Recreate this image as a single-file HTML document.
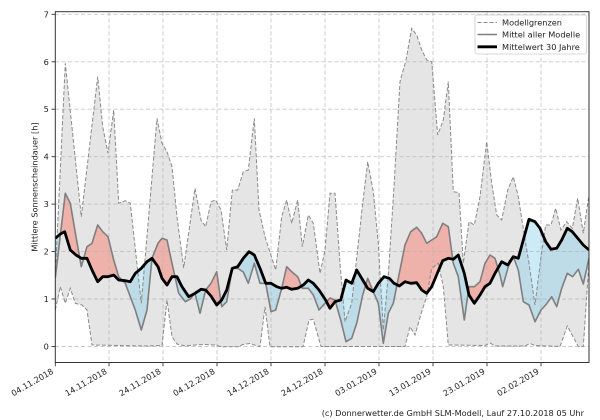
<!DOCTYPE html>
<html><head><meta charset="utf-8"><style>
html,body{margin:0;padding:0;background:#fff;}
svg{display:block;font-family:"DejaVu Sans","Liberation Sans",sans-serif;}
</style></head><body>
<svg width="600" height="420" viewBox="0 0 600 420" xmlns="http://www.w3.org/2000/svg">
<defs>
<clipPath id="ax"><rect x="55.3" y="11.7" width="533.7" height="350.8"/></clipPath>
<clipPath id="aboveB"><polygon points="55.3,11 55.3,238.3 60.3,234 64.7,231.7 70.3,250 76,255 81.3,258.3 87,258.3 92,270 97.7,281.7 102.7,276.7 108,276.7 113.7,275 118.7,280 125.3,280.7 130.3,281.7 135.3,273.3 141.3,268.3 147,261.7 152,258.3 158,266.7 162,278.3 167,285 172,276.7 177,276.7 182,286.7 188.7,296.7 195,293.3 201,289.3 205.7,290 211,296 216.7,305 221.7,300 226.7,290 232.3,268.3 237.7,266.7 243.3,258.3 249,251.7 254.3,255 260,268.3 265.7,283.3 271,283.3 276.7,286.7 281.7,288.3 286.7,287.3 291.7,289.3 297.7,288.3 303.3,285 308.3,280 313.3,283.3 319,290 325,299 330,308.3 335,301.7 340.7,300 346,280 351.7,283.3 356.7,270 362.7,280 367.7,288.3 373.3,291.7 378.3,283.3 384,276.7 389.3,278.3 394,283.3 399.3,286 405,281.7 410.7,283.3 416.7,282.7 421.7,290 426.7,293.3 431.7,286.7 437.3,273.3 442.7,260.7 448.3,258.3 453.3,259.3 458.3,255 464.3,273.3 469,295 474.3,303.3 480,295 485,286.7 490,283.3 495,273.3 501.7,261.7 507.7,265 513.3,256.7 518.3,258.3 523.3,240 529,219.3 535,221.7 540,228.3 545.7,241.7 551,249.3 556.7,248.3 561.7,240 567.3,228.3 572.3,231.7 577.7,238.3 583.3,245 589,250 589,11"/></clipPath>
<clipPath id="aboveM"><polygon points="55.3,11 55.3,278 65.3,193.3 70.3,203.3 76,236.7 81.3,266.7 87,246.7 92,243.3 97.7,225 102.7,231.7 108,236.7 113.7,260 118.7,276.7 125.3,283.3 130.3,296.7 135.3,310 141.3,330 147,310 152,258.3 158,243.3 162,238.3 167,240 172,263.3 178.7,293.3 185.3,301.7 190.3,299 195,293.3 200,313.3 205.7,290 211,283.3 216.7,271.7 221.7,306.7 226.7,301.7 232.3,268.3 237.7,268.3 243.3,272 248.3,283.3 254.3,263.3 260,283.3 265.7,283.3 271,311.7 275.7,310 281.7,288.3 286.7,266.7 291.7,271.7 297.7,276.7 302.3,288.3 308.3,288.3 313.3,295 319,310 325,303.3 330,298 335,300 340.7,320 346,341.7 351.7,338.3 356.7,323.3 362.7,295 367.7,278.3 373.3,291.7 378.3,303.3 383.3,343.3 388.3,313.3 393.3,303.3 399.3,273.3 405,245 410.7,231.7 416.7,227.3 421.7,233.3 426.7,243.3 431.7,240 436.7,236.7 442.7,223.3 448.3,226.7 453.3,263.3 458.3,276.7 464.3,320 469,286.7 474.3,286.7 480,281.7 485,263.3 490,255 495,258.3 500,275 502.7,286.7 508.3,266.7 513.3,256.7 518.3,270 523.3,301.7 529,305 535,321.7 541,310 545.7,305 551.7,296.7 556.7,306.7 561.7,288.3 567.3,273.3 572.7,276.7 578.3,269.3 583.3,284 589,258 589,11"/></clipPath>
</defs>

<g clip-path="url(#ax)">
<!-- gray band -->
<polygon fill="#d3d3d3" fill-opacity="0.6" points="55.3,275 65.3,63.3 81.3,216.7 97.7,76.7 102.7,126.7 108,153.3 113.7,110 118.7,203.3 125.3,200.7 130.3,203.3 141.3,303.3 157,118.3 162,143.3 167,151.7 172,166.7 177,216.7 183.7,268 195,188.3 201,220 205.7,226.7 211,201.7 215.7,200 221,210 226.7,250 232.3,190 237.7,190 243.3,171.7 248.3,170 254.3,118.3 259,210 265,236.7 275.7,270 281.7,216.7 286.7,200 291.7,223.3 297.7,200 302.3,246.7 308.3,215 313.3,223.3 320,273.3 325,250 330,193.3 335,193.3 340,263.3 345,321.7 351.7,303.3 362.7,203.3 367.7,161.7 373.3,191.7 378.3,243.3 383.3,330 388.3,275 394,186.7 400,81.7 406,60 411.7,28.3 416.7,35 421.7,50 426.7,60 431.7,61.7 437.7,135 443.3,120 448.3,81.7 453.3,191.7 459,192.7 463.3,263.3 469,221.7 474.3,225 480,196.7 486.7,141.7 491.7,183.3 496.7,215 501.7,220 507.7,190 513.3,176.7 518.3,196.7 523.5,230 529,263.3 535,305 541,256.7 545.7,225 551,225 555.7,208.3 561,230 566.7,221.7 572.3,228.3 577.7,198.3 583.3,233.3 589,195 589,262 583.3,346.5 578.3,346.5 567.3,326 560,346.5 535,345.5 530,343.5 525,346 495,346 490,343 485,345.5 448.3,345 443.3,286.7 438.3,263.3 431.7,268.3 426.7,296.7 421.7,311.7 415,335 410,326.7 405,346.5 321,346.5 318,336 313.3,319.3 309,320 303,346.7 270,346.7 265,306.7 260,346.7 256,345.5 250,343.5 243,344.5 238,346.7 221,346.7 215,345 205,344.5 195,345 185,346 177,344 172,336.7 167,300 162,345.5 145,346 120,345.5 92,345 87,310 82,305 75.3,303.3 70.3,288.3 65.3,303.3 60.3,286.7 55.3,310"/>

<!-- red: model above 30y -->
<polygon clip-path="url(#aboveB)" fill="#fa8072" fill-opacity="0.5" points="55.3,362.5 55.3,278 65.3,193.3 70.3,203.3 76,236.7 81.3,266.7 87,246.7 92,243.3 97.7,225 102.7,231.7 108,236.7 113.7,260 118.7,276.7 125.3,283.3 130.3,296.7 135.3,310 141.3,330 147,310 152,258.3 158,243.3 162,238.3 167,240 172,263.3 178.7,293.3 185.3,301.7 190.3,299 195,293.3 200,313.3 205.7,290 211,283.3 216.7,271.7 221.7,306.7 226.7,301.7 232.3,268.3 237.7,268.3 243.3,272 248.3,283.3 254.3,263.3 260,283.3 265.7,283.3 271,311.7 275.7,310 281.7,288.3 286.7,266.7 291.7,271.7 297.7,276.7 302.3,288.3 308.3,288.3 313.3,295 319,310 325,303.3 330,298 335,300 340.7,320 346,341.7 351.7,338.3 356.7,323.3 362.7,295 367.7,278.3 373.3,291.7 378.3,303.3 383.3,343.3 388.3,313.3 393.3,303.3 399.3,273.3 405,245 410.7,231.7 416.7,227.3 421.7,233.3 426.7,243.3 431.7,240 436.7,236.7 442.7,223.3 448.3,226.7 453.3,263.3 458.3,276.7 464.3,320 469,286.7 474.3,286.7 480,281.7 485,263.3 490,255 495,258.3 500,275 502.7,286.7 508.3,266.7 513.3,256.7 518.3,270 523.3,301.7 529,305 535,321.7 541,310 545.7,305 551.7,296.7 556.7,306.7 561.7,288.3 567.3,273.3 572.7,276.7 578.3,269.3 583.3,284 589,258 589,362.5"/>

<!-- blue: model below 30y -->
<polygon clip-path="url(#aboveM)" fill="#87ceeb" fill-opacity="0.42" points="55.3,362.5 55.3,238.3 60.3,234 64.7,231.7 70.3,250 76,255 81.3,258.3 87,258.3 92,270 97.7,281.7 102.7,276.7 108,276.7 113.7,275 118.7,280 125.3,280.7 130.3,281.7 135.3,273.3 141.3,268.3 147,261.7 152,258.3 158,266.7 162,278.3 167,285 172,276.7 177,276.7 182,286.7 188.7,296.7 195,293.3 201,289.3 205.7,290 211,296 216.7,305 221.7,300 226.7,290 232.3,268.3 237.7,266.7 243.3,258.3 249,251.7 254.3,255 260,268.3 265.7,283.3 271,283.3 276.7,286.7 281.7,288.3 286.7,287.3 291.7,289.3 297.7,288.3 303.3,285 308.3,280 313.3,283.3 319,290 325,299 330,308.3 335,301.7 340.7,300 346,280 351.7,283.3 356.7,270 362.7,280 367.7,288.3 373.3,291.7 378.3,283.3 384,276.7 389.3,278.3 394,283.3 399.3,286 405,281.7 410.7,283.3 416.7,282.7 421.7,290 426.7,293.3 431.7,286.7 437.3,273.3 442.7,260.7 448.3,258.3 453.3,259.3 458.3,255 464.3,273.3 469,295 474.3,303.3 480,295 485,286.7 490,283.3 495,273.3 501.7,261.7 507.7,265 513.3,256.7 518.3,258.3 523.3,240 529,219.3 535,221.7 540,228.3 545.7,241.7 551,249.3 556.7,248.3 561.7,240 567.3,228.3 572.3,231.7 577.7,238.3 583.3,245 589,250 589,362.5"/>

<!-- grid -->
<g stroke="#b0b0b0" stroke-opacity="0.7" stroke-width="0.9" stroke-dasharray="4,2.5" fill="none">
<line x1="55" y1="346.5" x2="589" y2="346.5"/>
<line x1="55" y1="299.0" x2="589" y2="299.0"/>
<line x1="55" y1="251.6" x2="589" y2="251.6"/>
<line x1="55" y1="204.1" x2="589" y2="204.1"/>
<line x1="55" y1="156.7" x2="589" y2="156.7"/>
<line x1="55" y1="109.2" x2="589" y2="109.2"/>
<line x1="55" y1="61.8" x2="589" y2="61.8"/>
<line x1="55" y1="14.3" x2="589" y2="14.3"/>
<line x1="109" y1="12" x2="109" y2="362"/>
<line x1="163" y1="12" x2="163" y2="362"/>
<line x1="217" y1="12" x2="217" y2="362"/>
<line x1="271" y1="12" x2="271" y2="362"/>
<line x1="325" y1="12" x2="325" y2="362"/>
<line x1="379" y1="12" x2="379" y2="362"/>
<line x1="433" y1="12" x2="433" y2="362"/>
<line x1="487" y1="12" x2="487" y2="362"/>
<line x1="541" y1="12" x2="541" y2="362"/>
</g>

<!-- bounds dashed -->
<g stroke="#8a8a8a" stroke-width="1" stroke-dasharray="4,2" fill="none">
<polyline points="55.3,275 65.3,63.3 81.3,216.7 97.7,76.7 102.7,126.7 108,153.3 113.7,110 118.7,203.3 125.3,200.7 130.3,203.3 141.3,303.3 157,118.3 162,143.3 167,151.7 172,166.7 177,216.7 183.7,268 195,188.3 201,220 205.7,226.7 211,201.7 215.7,200 221,210 226.7,250 232.3,190 237.7,190 243.3,171.7 248.3,170 254.3,118.3 259,210 265,236.7 275.7,270 281.7,216.7 286.7,200 291.7,223.3 297.7,200 302.3,246.7 308.3,215 313.3,223.3 320,273.3 325,250 330,193.3 335,193.3 340,263.3 345,321.7 351.7,303.3 362.7,203.3 367.7,161.7 373.3,191.7 378.3,243.3 383.3,330 388.3,275 394,186.7 400,81.7 406,60 411.7,28.3 416.7,35 421.7,50 426.7,60 431.7,61.7 437.7,135 443.3,120 448.3,81.7 453.3,191.7 459,192.7 463.3,263.3 469,221.7 474.3,225 480,196.7 486.7,141.7 491.7,183.3 496.7,215 501.7,220 507.7,190 513.3,176.7 518.3,196.7 523.5,230 529,263.3 535,305 541,256.7 545.7,225 551,225 555.7,208.3 561,230 566.7,221.7 572.3,228.3 577.7,198.3 583.3,233.3 589,195"/>
<polyline points="55.3,310 60.3,286.7 65.3,303.3 70.3,288.3 75.3,303.3 82,305 87,310 92,345 120,345.5 145,346 162,345.5 167,300 172,336.7 177,344 185,346 195,345 205,344.5 215,345 221,346.7 238,346.7 243,344.5 250,343.5 256,345.5 260,346.7 265,306.7 270,346.7 303,346.7 309,320 313.3,319.3 318,336 321,346.5 405,346.5 410,326.7 415,335 421.7,311.7 426.7,296.7 431.7,268.3 438.3,263.3 443.3,286.7 448.3,345 485,345.5 490,343 495,346 525,346 530,343.5 535,345.5 560,346.5 567.3,326 578.3,346.5 583.3,346.5 589,262"/>
</g>

<!-- model mean -->
<polyline fill="none" stroke="#7f7f7f" stroke-width="1.6" stroke-linejoin="round" points="55.3,278 65.3,193.3 70.3,203.3 76,236.7 81.3,266.7 87,246.7 92,243.3 97.7,225 102.7,231.7 108,236.7 113.7,260 118.7,276.7 125.3,283.3 130.3,296.7 135.3,310 141.3,330 147,310 152,258.3 158,243.3 162,238.3 167,240 172,263.3 178.7,293.3 185.3,301.7 190.3,299 195,293.3 200,313.3 205.7,290 211,283.3 216.7,271.7 221.7,306.7 226.7,301.7 232.3,268.3 237.7,268.3 243.3,272 248.3,283.3 254.3,263.3 260,283.3 265.7,283.3 271,311.7 275.7,310 281.7,288.3 286.7,266.7 291.7,271.7 297.7,276.7 302.3,288.3 308.3,288.3 313.3,295 319,310 325,303.3 330,298 335,300 340.7,320 346,341.7 351.7,338.3 356.7,323.3 362.7,295 367.7,278.3 373.3,291.7 378.3,303.3 383.3,343.3 388.3,313.3 393.3,303.3 399.3,273.3 405,245 410.7,231.7 416.7,227.3 421.7,233.3 426.7,243.3 431.7,240 436.7,236.7 442.7,223.3 448.3,226.7 453.3,263.3 458.3,276.7 464.3,320 469,286.7 474.3,286.7 480,281.7 485,263.3 490,255 495,258.3 500,275 502.7,286.7 508.3,266.7 513.3,256.7 518.3,270 523.3,301.7 529,305 535,321.7 541,310 545.7,305 551.7,296.7 556.7,306.7 561.7,288.3 567.3,273.3 572.7,276.7 578.3,269.3 583.3,284 589,258"/>

<!-- 30y mean -->
<polyline fill="none" stroke="#000" stroke-width="2.8" stroke-linejoin="round" points="55.3,238.3 60.3,234 64.7,231.7 70.3,250 76,255 81.3,258.3 87,258.3 92,270 97.7,281.7 102.7,276.7 108,276.7 113.7,275 118.7,280 125.3,280.7 130.3,281.7 135.3,273.3 141.3,268.3 147,261.7 152,258.3 158,266.7 162,278.3 167,285 172,276.7 177,276.7 182,286.7 188.7,296.7 195,293.3 201,289.3 205.7,290 211,296 216.7,305 221.7,300 226.7,290 232.3,268.3 237.7,266.7 243.3,258.3 249,251.7 254.3,255 260,268.3 265.7,283.3 271,283.3 276.7,286.7 281.7,288.3 286.7,287.3 291.7,289.3 297.7,288.3 303.3,285 308.3,280 313.3,283.3 319,290 325,299 330,308.3 335,301.7 340.7,300 346,280 351.7,283.3 356.7,270 362.7,280 367.7,288.3 373.3,291.7 378.3,283.3 384,276.7 389.3,278.3 394,283.3 399.3,286 405,281.7 410.7,283.3 416.7,282.7 421.7,290 426.7,293.3 431.7,286.7 437.3,273.3 442.7,260.7 448.3,258.3 453.3,259.3 458.3,255 464.3,273.3 469,295 474.3,303.3 480,295 485,286.7 490,283.3 495,273.3 501.7,261.7 507.7,265 513.3,256.7 518.3,258.3 523.3,240 529,219.3 535,221.7 540,228.3 545.7,241.7 551,249.3 556.7,248.3 561.7,240 567.3,228.3 572.3,231.7 577.7,238.3 583.3,245 589,250"/>
</g>

<!-- frame -->
<rect x="55.3" y="11.7" width="533.7" height="350.8" fill="none" stroke="#333" stroke-width="1"/>

<!-- ticks -->
<g stroke="#333" stroke-width="0.9">
<line x1="51.5" y1="346.5" x2="55.3" y2="346.5"/>
<line x1="51.5" y1="299.0" x2="55.3" y2="299.0"/>
<line x1="51.5" y1="251.6" x2="55.3" y2="251.6"/>
<line x1="51.5" y1="204.1" x2="55.3" y2="204.1"/>
<line x1="51.5" y1="156.7" x2="55.3" y2="156.7"/>
<line x1="51.5" y1="109.2" x2="55.3" y2="109.2"/>
<line x1="51.5" y1="61.8" x2="55.3" y2="61.8"/>
<line x1="51.5" y1="14.3" x2="55.3" y2="14.3"/>
<line x1="55.3" y1="362.5" x2="55.3" y2="366.3"/>
<line x1="109" y1="362.5" x2="109" y2="366.3"/>
<line x1="163" y1="362.5" x2="163" y2="366.3"/>
<line x1="217" y1="362.5" x2="217" y2="366.3"/>
<line x1="271" y1="362.5" x2="271" y2="366.3"/>
<line x1="325" y1="362.5" x2="325" y2="366.3"/>
<line x1="379" y1="362.5" x2="379" y2="366.3"/>
<line x1="433" y1="362.5" x2="433" y2="366.3"/>
<line x1="487" y1="362.5" x2="487" y2="366.3"/>
<line x1="541" y1="362.5" x2="541" y2="366.3"/>
</g>

<g font-size="8.2" fill="#222" text-anchor="end">
<text x="48.8" y="349.5">0</text>
<text x="48.8" y="302.0">1</text>
<text x="48.8" y="254.6">2</text>
<text x="48.8" y="207.1">3</text>
<text x="48.8" y="159.7">4</text>
<text x="48.8" y="112.2">5</text>
<text x="48.8" y="64.8">6</text>
<text x="48.8" y="17.3">7</text>
</g>

<g font-size="8.2" fill="#222" text-anchor="end">
<text x="54" y="373" transform="rotate(-30 54 373)">04.11.2018</text>
<text x="107.7" y="373" transform="rotate(-30 107.7 373)">14.11.2018</text>
<text x="161.7" y="373" transform="rotate(-30 161.7 373)">24.11.2018</text>
<text x="215.7" y="373" transform="rotate(-30 215.7 373)">04.12.2018</text>
<text x="269.7" y="373" transform="rotate(-30 269.7 373)">14.12.2018</text>
<text x="323.7" y="373" transform="rotate(-30 323.7 373)">24.12.2018</text>
<text x="377.7" y="373" transform="rotate(-30 377.7 373)">03.01.2019</text>
<text x="431.7" y="373" transform="rotate(-30 431.7 373)">13.01.2019</text>
<text x="485.7" y="373" transform="rotate(-30 485.7 373)">23.01.2019</text>
<text x="539.7" y="373" transform="rotate(-30 539.7 373)">02.02.2019</text>
</g>

<text x="37.5" y="187" font-size="8.2" fill="#222" text-anchor="middle" transform="rotate(-90 37.5 187)">Mittlere Sonnenscheindauer [h]</text>

<!-- legend -->
<rect x="475" y="15" width="111.5" height="39" rx="2" ry="2" fill="#fff" fill-opacity="0.85" stroke="#cccccc" stroke-width="0.8"/>
<line x1="477.5" y1="22.5" x2="497" y2="22.5" stroke="#8a8a8a" stroke-width="1" stroke-dasharray="4,2"/>
<line x1="477.5" y1="34.5" x2="497" y2="34.5" stroke="#7f7f7f" stroke-width="1.6"/>
<line x1="477.5" y1="46.8" x2="497" y2="46.8" stroke="#000" stroke-width="2.8"/>
<g font-size="8.2" fill="#222">
<text x="502" y="25.5">Modellgrenzen</text>
<text x="502" y="37.5">Mittel aller Modelle</text>
<text x="502" y="49.8">Mittelwert 30 Jahre</text>
</g>

<text x="321.7" y="416" font-size="8.2" fill="#222">(c) Donnerwetter.de GmbH SLM-Modell, Lauf 27.10.2018 05 Uhr</text>
</svg>
</body></html>
